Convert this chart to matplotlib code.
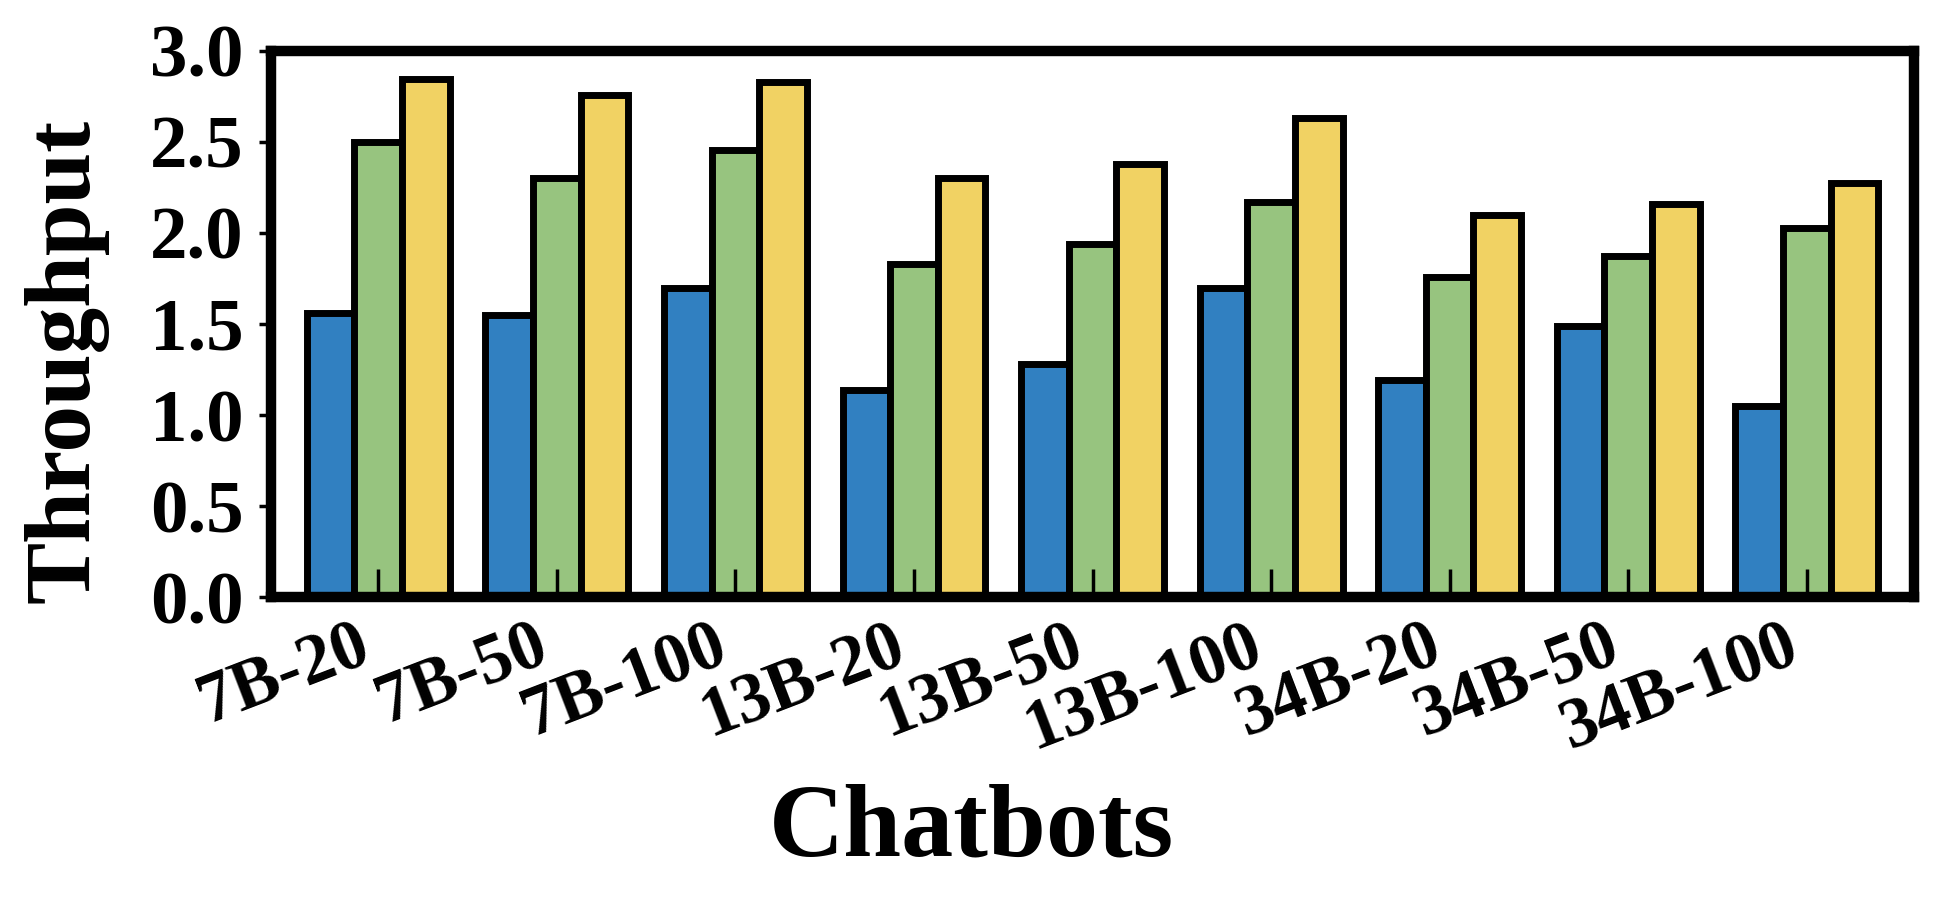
import matplotlib
matplotlib.use("Agg")
import matplotlib.pyplot as plt
import numpy as np

plt.rcParams['font.family'] = ['Liberation Serif', 'DejaVu Serif']
plt.rcParams['font.weight'] = 'bold'

chatbots = ['7B-20', '7B-50', '7B-100', '13B-20', '13B-50', '13B-100',
            '34B-20', '34B-50', '34B-100']
blue_vals = [1.56, 1.55, 1.70, 1.14, 1.28, 1.70, 1.19, 1.49, 1.05]
green_vals = [2.50, 2.30, 2.455, 1.83, 1.94, 2.17, 1.76, 1.875, 2.025]
yellow_vals = [2.845, 2.757, 2.827, 2.30, 2.38, 2.63, 2.10, 2.158, 2.277]
colors = ['#3180C1', '#97C47F', '#F1D263']

fig = plt.figure(figsize=(19.39, 9.02), dpi=100)
ax = fig.add_axes([0.1398, 0.3381, 0.8473, 0.6054])

x = np.arange(len(chatbots))
w = 0.8 / 3
for i, (vals, c) in enumerate(zip([blue_vals, green_vals, yellow_vals], colors)):
    ax.bar(x + (i - 1) * w, vals, w, color=c, edgecolor='black', linewidth=5)

ax.set_xlim(-0.6, 8.6)
ax.set_ylim(0, 3)
ax.set_yticks(np.arange(0, 3.01, 0.5))
ax.set_yticklabels(['%.1f' % v for v in np.arange(0, 3.01, 0.5)])
ax.set_xticks(x)
ax.set_xticklabels(chatbots, rotation=21, ha='right')

for s in ax.spines.values():
    s.set_linewidth(7.5)

ax.tick_params(axis='y', direction='out', length=9, width=2.5, labelsize=54, pad=11)
ax.tick_params(axis='x', direction='in', length=20, width=2.5, labelsize=51, pad=12)

ax.set_ylabel('Throughput', fontsize=67, fontweight='bold')
ax.yaxis.set_label_coords(-0.1114, 0.432)
ax.yaxis.label.set_verticalalignment('baseline')

ax.set_xlabel('Chatbots', fontsize=75, fontweight='bold')
ax.xaxis.set_label_coords(0.426, -0.4725)
ax.xaxis.label.set_verticalalignment('baseline')

fig.savefig('out.png', dpi=100)
